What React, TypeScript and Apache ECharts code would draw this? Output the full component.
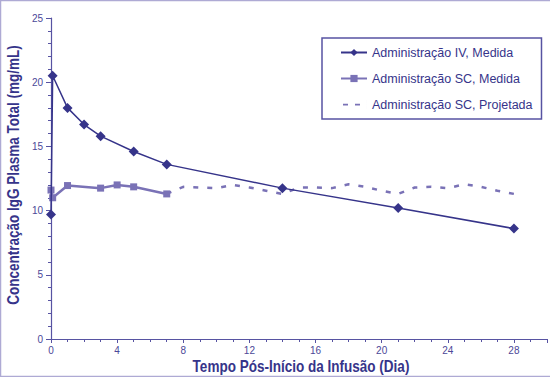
import React, { useEffect, useRef } from "react";
import * as echarts from "echarts";

const ivDays = [0, 0.1, 1, 2, 3, 5, 7, 14, 21, 28];
const ivValues = [9.7, 20.5, 18.0, 16.7, 15.8, 14.6, 13.6, 11.75, 10.2, 8.6];

const scDays = [0, 0.1, 1, 3, 4, 5, 7];
const scValues = [11.6, 11.0, 11.95, 11.75, 12.0, 11.85, 11.3];

const projDays = [7, 8, 9, 10, 11, 12, 13, 14, 15, 16, 17, 18, 19, 20, 21, 22, 23, 24, 25, 26, 27, 28];
const projValues = [11.3, 11.85, 11.8, 11.75, 12.0, 11.8, 11.55, 11.3, 11.8, 11.8, 11.75, 12.05, 11.85, 11.55, 11.3, 11.8, 11.85, 11.75, 12.05, 11.85, 11.55, 11.3];

const xTicks = { min: 0, max: 30, interval: 4 };
const yTicks = { min: 0, max: 25, interval: 5 };

const seriesNames = [
  "Administração IV, Medida",
  "Administração SC, Medida",
  "Administração SC, Projetada",
];
const xTitle = "Tempo Pós-Início da Infusão (Dia)";
const yTitle = "Concentração IgG Plasma Total (mg/mL)";

const dark = "#36348a";
const light = "#7a72b6";
const axisColor = "#5753a2";
const labelColor = "#4b4898";
const titleFont = "bold 16px 'Liberation Sans', Arial, sans-serif";

const pairs = (xs: number[], ys: number[]) => xs.map((x, i) => [x, ys[i]]);

function measure(text: string, font: string): number {
  const c = document.createElement("canvas").getContext("2d");
  if (!c) return text.length * 9;
  c.font = font;
  return c.measureText(text).width;
}

export default function App() {
  const ref = useRef<HTMLDivElement>(null);
  useEffect(() => {
    if (!ref.current) return;
    const chart = echarts.init(ref.current, null, { renderer: "svg" });
    const xScale = 217 / measure(xTitle, titleFont);
    const yScale = 260 / measure(yTitle, titleFont);
    chart.setOption({
      animation: false,
      backgroundColor: "#ffffff",
      grid: { left: 51, right: 1, top: 18, bottom: 38, containLabel: false },
      legend: {
        orient: "vertical",
        left: 322,
        top: 38,
        padding: [8, 9, 8, 18],
        itemWidth: 26,
        itemHeight: 9,
        itemGap: 13,
        borderColor: axisColor,
        borderWidth: 1.5,
        symbolKeepAspect: false,
        textStyle: { color: dark, fontFamily: "Liberation Sans, Arial", fontSize: 12.5 },
        data: [
          seriesNames[0],
          seriesNames[1],
          {
            name: seriesNames[2],
            icon: "path://M0,0h0.01v12h-0.01z M2,5h5v2.4h-5z M14,5h5v2.4h-5z M26,0h0.01v12h-0.01z",
            itemStyle: { color: light },
          },
        ],
      },
      graphic: [
        {
          type: "rect",
          shape: { x: 0.5, y: 0.5, width: 560, height: 376 },
          style: { fill: "none", stroke: "#aeaad4", lineWidth: 1.5 },
          silent: true,
        },
        {
          type: "text",
          x: 301,
          y: 367,
          scaleX: xScale,
          style: {
            text: xTitle,
            font: titleFont,
            fill: dark,
            align: "center",
            verticalAlign: "middle",
          },
          silent: true,
        },
        {
          type: "text",
          x: 14,
          y: 175,
          rotation: Math.PI / 2,
          scaleX: yScale,
          style: {
            text: yTitle,
            font: titleFont,
            fill: dark,
            align: "center",
            verticalAlign: "middle",
          },
          silent: true,
        },
      ],
      xAxis: {
        type: "value",
        min: xTicks.min,
        max: xTicks.max,
        interval: xTicks.interval,
        axisLine: { show: true, lineStyle: { color: axisColor, width: 1.2 } },
        axisTick: { show: true, length: 4, inside: false, lineStyle: { color: axisColor } },
        minorTick: { show: true, splitNumber: 4, length: 3, lineStyle: { color: axisColor } },
        axisLabel: {
          color: labelColor,
          fontSize: 10,
          margin: 6,
          fontFamily: "Liberation Sans, Arial",
          formatter: (v: number) => (v === xTicks.max ? "" : String(v)),
        },
        splitLine: { show: false },
      },
      yAxis: {
        type: "value",
        min: yTicks.min,
        max: yTicks.max,
        interval: yTicks.interval,
        axisLine: { show: true, lineStyle: { color: axisColor, width: 1.2 } },
        axisTick: { show: true, length: 5, lineStyle: { color: axisColor } },
        minorTick: { show: true, splitNumber: 5, length: 3, lineStyle: { color: axisColor } },
        axisLabel: {
          color: labelColor,
          fontSize: 10,
          margin: 8,
          fontFamily: "Liberation Sans, Arial",
        },
        splitLine: { show: false },
      },
      series: [
        {
          name: seriesNames[2],
          type: "line",
          data: pairs(projDays, projValues),
          symbol: "none",
          lineStyle: { color: light, width: 2.5, type: [5, 9] },
          itemStyle: { color: light },
          z: 1,
        },
        {
          name: seriesNames[1],
          type: "line",
          data: pairs(scDays, scValues),
          symbol: "rect",
          symbolSize: 7,
          lineStyle: { color: light, width: 2.5 },
          itemStyle: { color: light },
          z: 2,
        },
        {
          name: seriesNames[0],
          type: "line",
          data: pairs(ivDays, ivValues),
          symbol: "diamond",
          symbolSize: 10,
          lineStyle: { color: dark, width: 1.5 },
          itemStyle: { color: dark },
          z: 3,
        },
      ],
    });
    return () => chart.dispose();
  }, []);
  return (
    <div
      ref={ref}
      style={{ position: "fixed", left: 0, top: 0, width: 550, height: 377 }}
    />
  );
}
